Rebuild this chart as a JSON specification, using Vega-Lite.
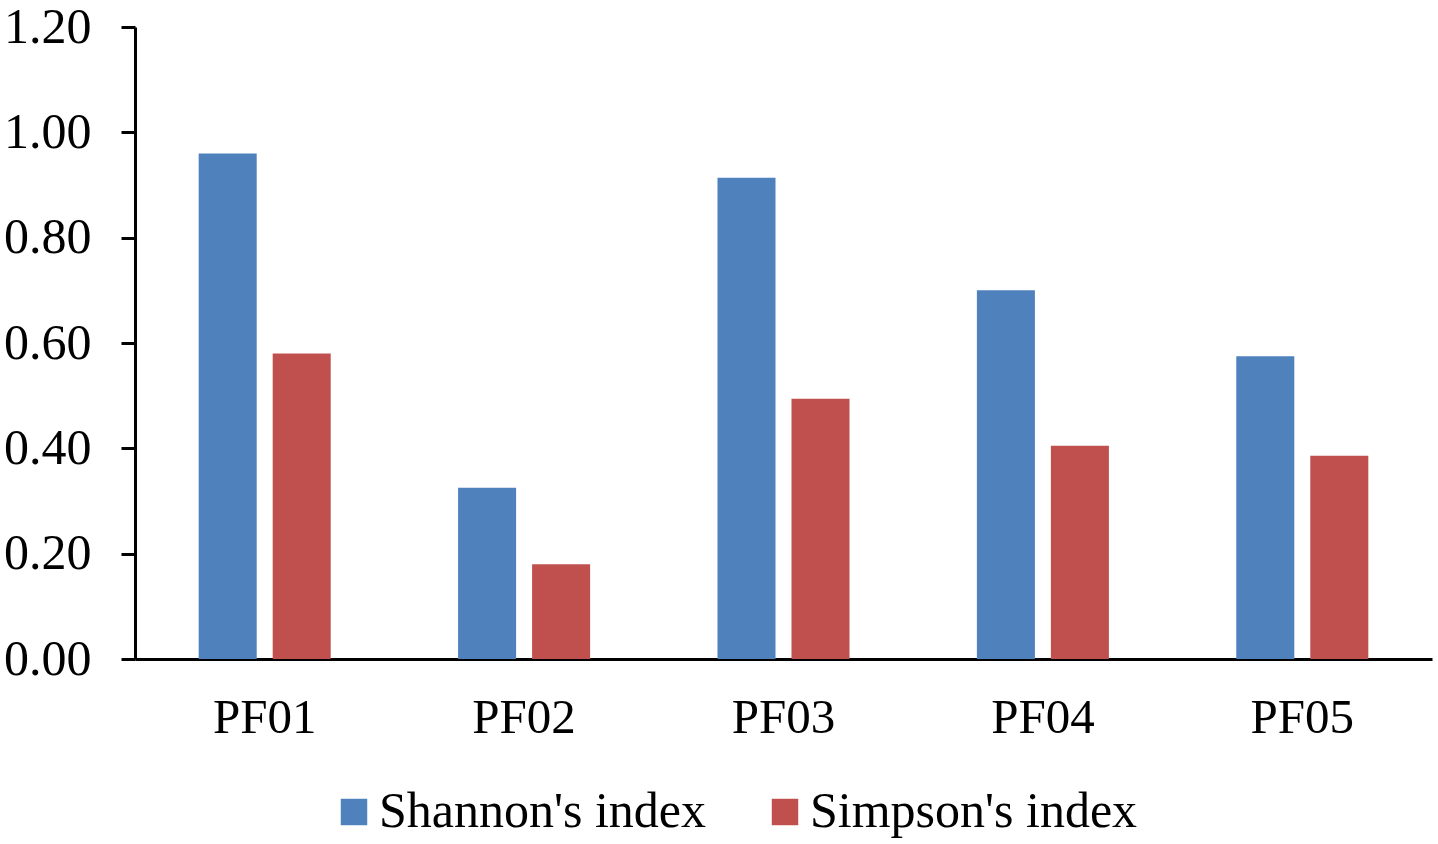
{
  "$schema": "https://vega.github.io/schema/vega-lite/v6.json",
  "autosize": "none",
  "width": 1297,
  "height": 632,
  "padding": {"left": 135, "top": 27, "right": 6, "bottom": 185},
  "background": "white",
  "config": {
    "view": {"stroke": null},
    "font": "Liberation Serif"
  },
  "data": {
    "values": [
      {"site": "PF01", "index": "Shannon's index", "value": 0.960},
      {"site": "PF01", "index": "Simpson's index", "value": 0.580},
      {"site": "PF02", "index": "Shannon's index", "value": 0.325},
      {"site": "PF02", "index": "Simpson's index", "value": 0.180},
      {"site": "PF03", "index": "Shannon's index", "value": 0.914},
      {"site": "PF03", "index": "Simpson's index", "value": 0.494},
      {"site": "PF04", "index": "Shannon's index", "value": 0.700},
      {"site": "PF04", "index": "Simpson's index", "value": 0.405},
      {"site": "PF05", "index": "Shannon's index", "value": 0.575},
      {"site": "PF05", "index": "Simpson's index", "value": 0.386}
    ]
  },
  "mark": {"type": "bar"},
  "encoding": {
    "x": {
      "field": "site",
      "type": "nominal",
      "scale": {"paddingInner": 0.491, "paddingOuter": 0.2455},
      "axis": {
        "title": null,
        "labelAngle": 0,
        "labelFont": "Liberation Serif",
        "labelFontSize": 49,
        "labelColor": "black",
        "labelPadding": 34,
        "ticks": false,
        "domainColor": "black",
        "domainWidth": 3
      }
    },
    "xOffset": {
      "field": "index",
      "type": "nominal",
      "sort": ["Shannon's index", "Simpson's index"],
      "scale": {"paddingInner": 0.216, "paddingOuter": 0}
    },
    "y": {
      "field": "value",
      "type": "quantitative",
      "scale": {"domain": [0, 1.2], "nice": false},
      "axis": {
        "title": null,
        "values": [0, 0.2, 0.4, 0.6, 0.8, 1.0, 1.2],
        "format": ".2f",
        "grid": false,
        "labelFont": "Liberation Serif",
        "labelFontSize": 50,
        "labelColor": "black",
        "labelPadding": 30,
        "tickSize": 14,
        "tickWidth": 3,
        "tickColor": "black",
        "domainColor": "black",
        "domainWidth": 3
      }
    },
    "color": {
      "field": "index",
      "type": "nominal",
      "sort": ["Shannon's index", "Simpson's index"],
      "scale": {"domain": ["Shannon's index", "Simpson's index"], "range": ["#4F81BD", "#C0504D"]},
      "legend": {
        "title": null,
        "orient": "none",
        "direction": "horizontal",
        "legendX": 194,
        "legendY": 760,
        "symbolType": "square",
        "symbolSize": 700,
        "symbolStrokeWidth": 0,
        "labelFont": "Liberation Serif",
        "labelFontSize": 50,
        "labelColor": "black",
        "labelOffset": 0,
        "columnPadding": 53,
        "labelLimit": 600
      }
    }
  }
}
